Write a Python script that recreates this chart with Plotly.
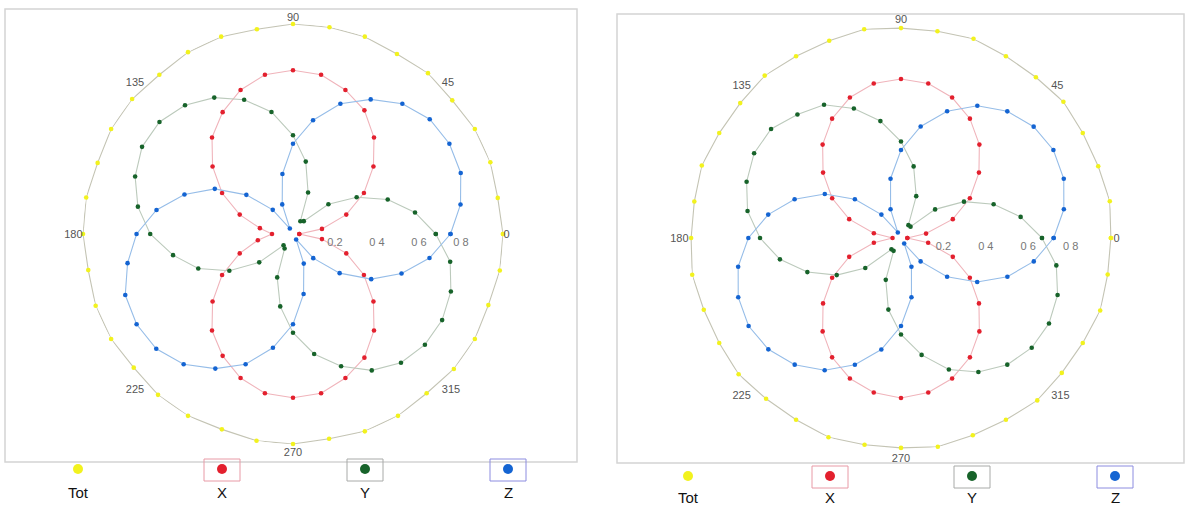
import plotly.graph_objects as go

# ---------------- data ----------------
theta = [0, 10, 20, 30, 40, 50, 60, 70, 80, 90, 100, 110, 120, 130, 140, 150, 160, 170,
         180, 190, 200, 210, 220, 230, 240, 250, 260, 270, 280, 290, 300, 310, 320, 330, 340, 350]

# left chart
tot_left = [1.00, 0.99, 1.00, 1.00, 0.99, 1.00, 0.99, 1.00, 1.00, 1.00, 0.99, 1.00, 1.00, 0.99, 1.00, 1.00, 0.99, 1.00,
            1.00, 0.99, 1.00, 1.00, 0.99, 1.00, 1.00, 0.99, 1.00, 1.00, 0.99, 1.00, 1.00, 0.99, 1.00, 1.00, 0.99, 1.00]
x_left = [0.03, 0.14, 0.27, 0.39, 0.50, 0.60, 0.68, 0.73, 0.77, 0.78, 0.77, 0.73, 0.67, 0.60, 0.50, 0.39, 0.27, 0.16,
          0.10, 0.17, 0.27, 0.39, 0.50, 0.60, 0.67, 0.73, 0.77, 0.78, 0.77, 0.73, 0.68, 0.60, 0.50, 0.39, 0.27, 0.14]
y_left = [0.68, 0.59, 0.48, 0.35, 0.22, 0.08, 0.07, 0.21, 0.35, 0.47, 0.59, 0.68, 0.75, 0.80, 0.83, 0.83, 0.80, 0.75,
          0.68, 0.58, 0.48, 0.35, 0.21, 0.07, 0.08, 0.22, 0.35, 0.47, 0.58, 0.67, 0.75, 0.80, 0.82, 0.82, 0.80, 0.76]
z_left = [0.75, 0.81, 0.85, 0.86, 0.85, 0.81, 0.74, 0.66, 0.55, 0.43, 0.29, 0.15, 0.03, 0.15, 0.29, 0.43, 0.55, 0.66,
          0.745, 0.80, 0.85, 0.86, 0.85, 0.81, 0.74, 0.66, 0.55, 0.43, 0.29, 0.15, 0.03, 0.15, 0.29, 0.43, 0.55, 0.66]

# right chart
tot_right = [0.99, 1.00, 0.99, 0.99, 1.00, 0.99, 0.99, 1.00, 0.99, 0.99, 1.00, 0.99, 0.99, 1.00, 0.99, 0.99, 1.00, 0.99,
             0.99, 1.00, 0.99, 0.99, 1.00, 0.99, 0.99, 1.00, 0.99, 0.99, 1.00, 0.99, 0.99, 1.00, 0.99, 0.99, 1.00, 0.99]
x_right = [0.03, 0.12, 0.26, 0.375, 0.48, 0.575, 0.65, 0.705, 0.74, 0.75, 0.74, 0.705, 0.65, 0.575, 0.48, 0.375, 0.26, 0.13,
           0.04, 0.13, 0.26, 0.375, 0.48, 0.575, 0.65, 0.705, 0.74, 0.755, 0.74, 0.705, 0.65, 0.575, 0.48, 0.375, 0.26, 0.13]
y_right = [0.665, 0.573, 0.465, 0.343, 0.21, 0.07, 0.07, 0.21, 0.343, 0.455, 0.56, 0.65, 0.726, 0.76, 0.80, 0.80, 0.775, 0.735,
           0.665, 0.58, 0.47, 0.35, 0.22, 0.07, 0.07, 0.21, 0.343, 0.455, 0.56, 0.66, 0.73, 0.78, 0.805, 0.806, 0.786, 0.744]
z_right = [0.72, 0.78, 0.817, 0.83, 0.817, 0.78, 0.72, 0.636, 0.534, 0.415, 0.284, 0.144, 0.03, 0.144, 0.284, 0.415, 0.534, 0.636,
           0.72, 0.78, 0.817, 0.83, 0.817, 0.78, 0.72, 0.636, 0.534, 0.415, 0.284, 0.144, 0.03, 0.144, 0.284, 0.415, 0.534, 0.636]

series_names = ["Tot", "X", "Y", "Z"]
angular_ticks = [0, 45, 90, 135, 180, 225, 270, 315]
radial_ticks = [0.2, 0.4, 0.6, 0.8]
radial_labels = ["0.2", "0 4", "0 6", "0 8"]

# ---------------- styles ----------------
marker_colors = {"Tot": "#f2f21e", "X": "#e3202e", "Y": "#17632a", "Z": "#1464d2"}
line_colors = {"Tot": "#c4c4b4", "X": "#f0b4bb", "Y": "#bccabc", "Z": "#96bde8"}
FONT = "Liberation Sans, Arial, sans-serif"

fig = go.Figure()


def closed(vals):
    return list(vals) + [vals[0]]


def add_set(polar, data):
    for name, r in zip(series_names, data):
        fig.add_trace(go.Scatterpolar(
            r=closed(r), theta=closed(theta), mode="lines+markers", name=name,
            subplot=polar, showlegend=False, cliponaxis=False,
            line=dict(color=line_colors[name], width=1.1),
            marker=dict(color=marker_colors[name], size=4.6),
        ))


add_set("polar", [tot_left, x_left, y_left, z_left])
add_set("polar2", [tot_right, x_right, y_right, z_right])


def polar_layout(dom_x, dom_y):
    return dict(
        domain=dict(x=dom_x, y=dom_y),
        bgcolor="white",
        angularaxis=dict(
            direction="counterclockwise", rotation=0,
            tickvals=angular_ticks, ticktext=[str(t) for t in angular_ticks],
            showgrid=False, showline=False, ticks="",
            tickfont=dict(family=FONT, size=11, color="#555555"),
        ),
        radialaxis=dict(
            range=[0, 1.0], angle=0, tickangle=0,
            tickvals=radial_ticks, ticktext=radial_labels,
            showgrid=False, showline=False, ticks="",
            tickfont=dict(family=FONT, size=11, color="#777777"),
        ),
    )


W, H = 1186, 510


def px(x):
    return x / W


def py(y):
    return 1 - y / H


fig.update_layout(
    width=W, height=H,
    margin=dict(l=0, r=0, t=0, b=0),
    paper_bgcolor="white",
    polar=polar_layout([px(83), px(503)], [py(444), py(24)]),
    polar2=polar_layout([px(689), px(1113)], [py(450), py(26)]),
    font=dict(family=FONT),
)

shapes = []
annotations = []
# chart frames
for x0, y0, x1, y1 in [(5, 9, 577, 462), (617, 14, 1184, 463)]:
    shapes.append(dict(type="rect", xref="paper", yref="paper",
                       x0=px(x0), x1=px(x1), y0=py(y1), y1=py(y0),
                       line=dict(color="#d4d4d4", width=1.5)))

# custom legends
legend_sets = [
    (469, 492, [78, 222, 365, 508]),
    (476, 497, [688, 830, 972, 1115]),
]
box_colors = {"X": "#e89aa6", "Y": "#a8aaa8", "Z": "#8c8ce0"}
for dot_y, text_y, xs in legend_sets:
    for name, cx in zip(series_names, xs):
        if name != "Tot":
            shapes.append(dict(type="rect", xref="paper", yref="paper",
                               x0=px(cx - 18), x1=px(cx + 18),
                               y0=py(dot_y + 12), y1=py(dot_y - 10),
                               line=dict(color=box_colors[name], width=1)))
        shapes.append(dict(type="circle", xref="paper", yref="paper",
                           x0=px(cx - 5), x1=px(cx + 5),
                           y0=py(dot_y + 5), y1=py(dot_y - 5),
                           fillcolor=marker_colors[name], line=dict(width=0)))
        annotations.append(dict(text=name, xref="paper", yref="paper",
                                x=px(cx), y=py(text_y), showarrow=False,
                                xanchor="center", yanchor="middle",
                                font=dict(family=FONT, size=15, color="#111111")))

fig.update_layout(shapes=shapes, annotations=annotations)

fig.write_html(
    "out.html",
    config={"displayModeBar": False},
    post_script="document.body.style.margin='0';document.body.style.overflow='hidden';",
)
